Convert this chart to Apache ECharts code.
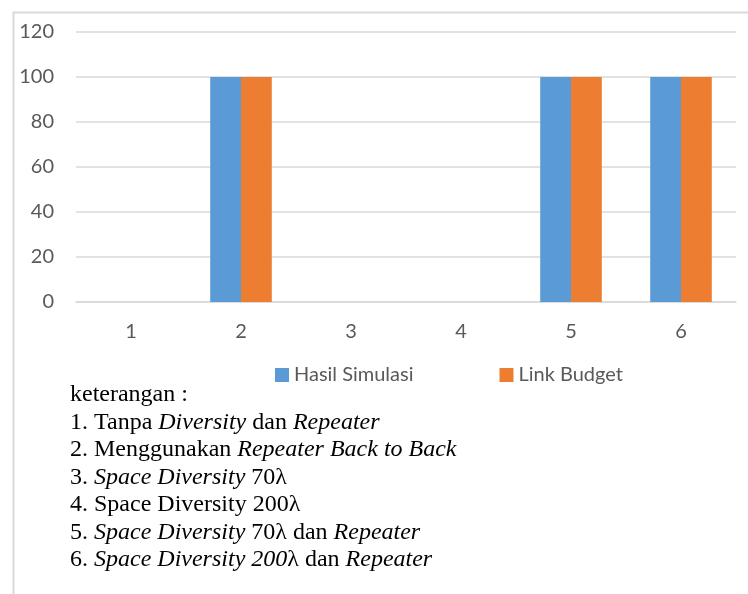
<!DOCTYPE html>
<html>
<head>
<meta charset="utf-8">
<script src="https://cdn.jsdelivr.net/npm/echarts@6/dist/echarts.min.js"></script>
<style>
  html, body { margin: 0; padding: 0; background: #fff; }
  #chart { width: 748px; height: 594px; }
</style>
</head>
<body>
<div id="chart"></div>
<script>
const categories = ["1", "2", "3", "4", "5", "6"];
const seriesNames = ["Hasil Simulasi", "Link Budget"];
const hasilSimulasi = [0, 100, 0, 0, 100, 100];
const linkBudget = [0, 100, 0, 0, 100, 100];
const yMax = 120;
const yStep = 20;

// legend notes under the chart, {i|..} = italic
const noteTitle = "keterangan :";
const notes = [
  "1. Tanpa {i|Diversity} dan {i|Repeater}",
  "2. Menggunakan {i|Repeater Back to Back}",
  "3. {i|Space Diversity} 70λ",
  "4. Space Diversity 200λ",
  "5. {i|Space Diversity} 70λ dan {i|Repeater}",
  "6. {i|Space Diversity 200}λ dan {i|Repeater}"
];

const COLORS = ["#5b9bd5", "#ed7d31"];
const LABEL_FONT = "Lato, 'Open Sans', sans-serif";
const SERIF = "'Liberation Serif', 'DejaVu Serif', serif";

const chart = echarts.init(document.getElementById("chart"));

const noteText = [noteTitle].concat(notes).join("\n");

chart.setOption({
  animation: false,
  color: COLORS,
  grid: { left: 76, right: 12, top: 32, bottom: 292 },
  legend: {
    data: seriesNames,
    left: 275,
    top: 365,
    padding: 0,
    icon: "rect",
    itemWidth: 14,
    itemHeight: 14,
    itemGap: 86,
    textStyle: { color: "#595959", fontSize: 20, fontFamily: LABEL_FONT }
  },
  xAxis: {
    type: "category",
    data: categories,
    axisTick: { show: false },
    axisLine: { lineStyle: { color: "#d9d9d9", width: 1.5 } },
    axisLabel: { color: "#595959", fontSize: 20, fontFamily: LABEL_FONT, margin: 20 }
  },
  yAxis: {
    type: "value",
    min: 0,
    max: yMax,
    interval: yStep,
    axisLine: { show: false },
    axisTick: { show: false },
    splitLine: { lineStyle: { color: "#d9d9d9", width: 1.5 } },
    axisLabel: { color: "#595959", fontSize: 20, fontFamily: LABEL_FONT, margin: 22 }
  },
  series: [
    { name: seriesNames[0], type: "bar", data: hasilSimulasi, barGap: "0%", barCategoryGap: "44%" },
    { name: seriesNames[1], type: "bar", data: linkBudget, barGap: "0%", barCategoryGap: "44%" }
  ],
  graphic: [
    {
      type: "rect",
      left: 11,
      top: 10,
      shape: { width: 760, height: 620 },
      style: { fill: "none", stroke: "#d9d9d9", lineWidth: 2 },
      silent: true
    },
    {
      type: "text",
      left: 70,
      top: 381,
      style: {
        text: noteText,
        fill: "#000",
        font: "24px " + SERIF,
        lineHeight: 27.5,
        rich: {
          i: { fontStyle: "italic", fontSize: 24, fontFamily: SERIF, fill: "#000", lineHeight: 27.5 }
        }
      }
    }
  ]
});
</script>
</body>
</html>
